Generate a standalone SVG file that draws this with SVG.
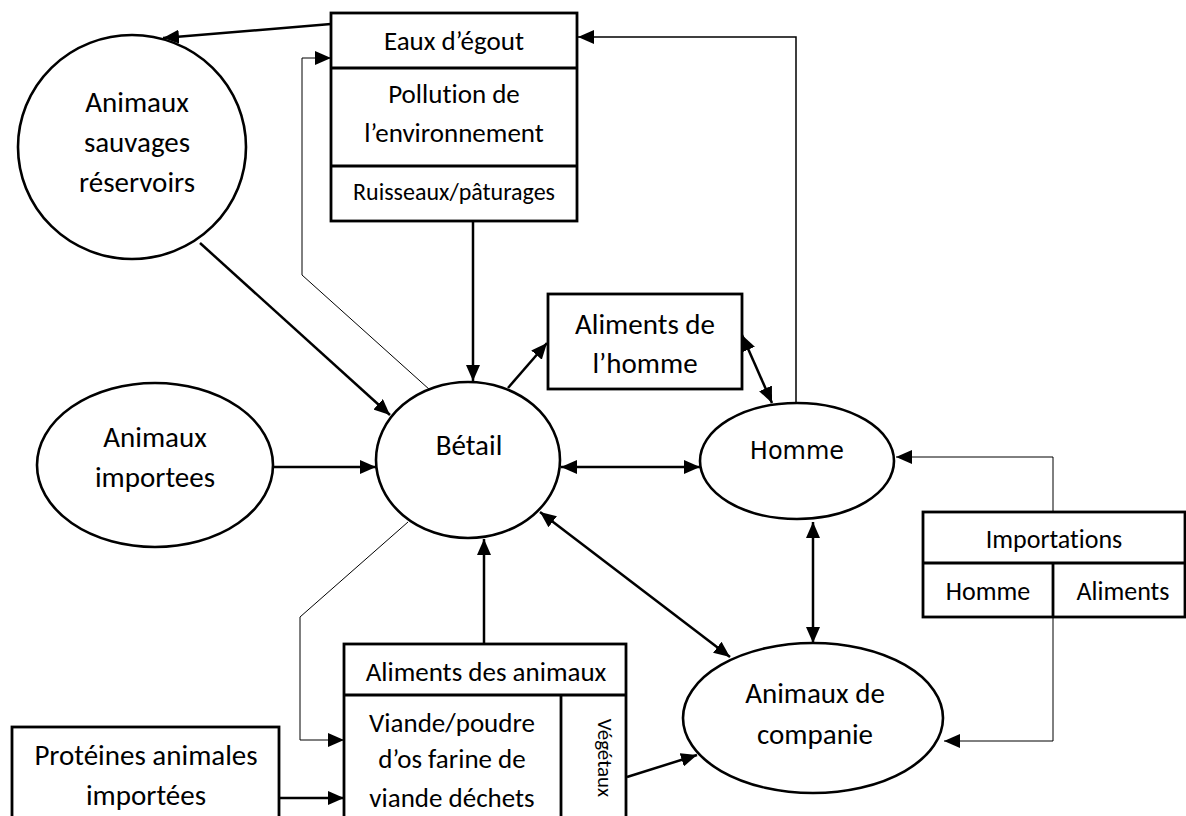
<svg xmlns="http://www.w3.org/2000/svg" width="1186" height="816" viewBox="0 0 1186 816">
<defs>
<style>
.box{fill:#fff;stroke:#000;stroke-width:2.8}
.ell{fill:#fff;stroke:#000;stroke-width:2.6}
.t{font-family:Carlito,Calibri,Lato,"Liberation Sans",sans-serif;font-size:27px;fill:#000;text-anchor:middle;font-variant-ligatures:none;font-feature-settings:"liga" 0}
.tl{font-size:29px}
.ti{font-size:26px}
.ts{font-size:24px}
.tr{font-size:21px}
.tv{font-family:"DejaVu Sans",Verdana,sans-serif;font-size:24px;fill:#000;text-anchor:middle}
.c{fill:none;stroke:#000;stroke-width:2.5}
.thin{fill:none;stroke:#000;stroke-width:1}
.mid{fill:none;stroke:#000;stroke-width:1.5}
</style>
<marker id="ah" viewBox="0 0 16 14" refX="16" refY="7" markerWidth="16" markerHeight="14" orient="auto-start-reverse" markerUnits="userSpaceOnUse"><path d="M0,0 L16,7 L0,14 z" fill="#000"/></marker>
<clipPath id="colclip"><rect x="563" y="697" width="62" height="119"/></clipPath>
</defs>
<rect width="1186" height="816" fill="#fff"/>

<g id="connectors">
<line class="c" x1="331" y1="24" x2="163" y2="38" marker-end="url(#ah)"/>
<polyline class="thin" points="430,390 302,275 302,58 331,58" marker-end="url(#ah)"/>
<line class="c" x1="473" y1="221" x2="473" y2="381" marker-end="url(#ah)"/>
<line class="c" x1="200" y1="243" x2="390" y2="415" marker-end="url(#ah)"/>
<line class="c" x1="273" y1="467" x2="376" y2="467" marker-end="url(#ah)"/>
<line class="c" x1="561" y1="467" x2="700" y2="467" marker-start="url(#ah)" marker-end="url(#ah)"/>
<line class="c" x1="508" y1="388" x2="547" y2="343" marker-end="url(#ah)"/>
<line class="c" x1="742" y1="335" x2="772" y2="403" marker-start="url(#ah)" marker-end="url(#ah)"/>
<polyline class="mid" points="796,403 796,37 578,37" marker-end="url(#ah)"/>
<line class="c" x1="813" y1="522" x2="813" y2="643" marker-start="url(#ah)" marker-end="url(#ah)"/>
<line class="c" x1="540" y1="512" x2="730" y2="657" marker-start="url(#ah)" marker-end="url(#ah)"/>
<line class="c" x1="484" y1="644" x2="484" y2="539" marker-end="url(#ah)"/>
<polyline class="thin" points="408,522 300,617 300,740 344,740" marker-end="url(#ah)"/>
<line class="c" x1="279" y1="798" x2="344" y2="798" marker-end="url(#ah)"/>
<line class="c" x1="627" y1="777" x2="697" y2="755" marker-end="url(#ah)"/>
<polyline class="thin" points="1053,512 1053,457 896,457" marker-end="url(#ah)"/>
<polyline class="thin" points="1053,617 1053,741 944,741" marker-end="url(#ah)"/>
</g>

<g id="eaux">
<rect class="box" x="331" y="13" width="246" height="208"/>
<line class="box" x1="331" y1="68" x2="577" y2="68"/>
<line class="box" x1="331" y1="166" x2="577" y2="166"/>
<text class="t" x="454" y="50">Eaux d’égout</text>
<text class="t" x="454" y="103">Pollution de</text>
<text class="t" x="454" y="142">l’environnement</text>
<text class="t ts" x="454" y="200">Ruisseaux/pâturages</text>
</g>

<g id="sauvages">
<ellipse class="ell" cx="132" cy="147" rx="114" ry="112"/>
<text class="t tl" x="137" y="112">Animaux</text>
<text class="t tl" x="137" y="152">sauvages</text>
<text class="t tl" x="137" y="192">réservoirs</text>
</g>

<g id="importees">
<ellipse class="ell" cx="155" cy="465" rx="118" ry="82"/>
<text class="t tl" x="155" y="447">Animaux</text>
<text class="t tl" x="155" y="487">importees</text>
</g>

<g id="betail">
<ellipse class="ell" cx="468" cy="460" rx="92" ry="78"/>
<text class="t tl" x="469" y="455">Bétail</text>
</g>

<g id="aliments-homme">
<rect class="box" x="548" y="294" width="194" height="95"/>
<text class="t tl" x="645" y="334">Aliments de</text>
<text class="t tl" x="645" y="373">l’homme</text>
</g>

<g id="homme">
<ellipse class="ell" cx="797" cy="461" rx="97" ry="58"/>
<text class="tv" x="797" y="459">Homme</text>
</g>

<g id="companie">
<ellipse class="ell" cx="813" cy="718" rx="130" ry="75"/>
<text class="t tl" x="815" y="703">Animaux de</text>
<text class="t tl" x="815" y="744">companie</text>
</g>

<g id="importations">
<rect class="box" x="923" y="512" width="262" height="105"/>
<line class="box" x1="923" y1="563" x2="1185" y2="563"/>
<line class="box" x1="1053" y1="563" x2="1053" y2="617"/>
<text class="t ti" x="1054" y="548">Importations</text>
<text class="t ti" x="988" y="600">Homme</text>
<text class="t ti" x="1123" y="600">Aliments</text>
</g>

<g id="aliments-animaux">
<rect class="box" x="344" y="644" width="282" height="180"/>
<line class="box" x1="344" y1="695" x2="626" y2="695"/>
<line class="box" x1="561" y1="695" x2="561" y2="816"/>
<text class="t" x="486" y="681">Aliments des animaux</text>
<text class="t" x="452" y="732">Viande/poudre</text>
<text class="t" x="452" y="768">d’os farine de</text>
<text class="t" x="452" y="807">viande déchets</text>
<g clip-path="url(#colclip)">
<text class="t tr" x="0" y="0" transform="translate(598,758) rotate(90)">Végétaux</text>
</g>
</g>

<g id="proteines">
<rect class="box" x="12" y="727" width="267" height="100"/>
<text class="t tl" x="146" y="765">Protéines animales</text>
<text class="t tl" x="146" y="805">importées</text>
</g>
</svg>
